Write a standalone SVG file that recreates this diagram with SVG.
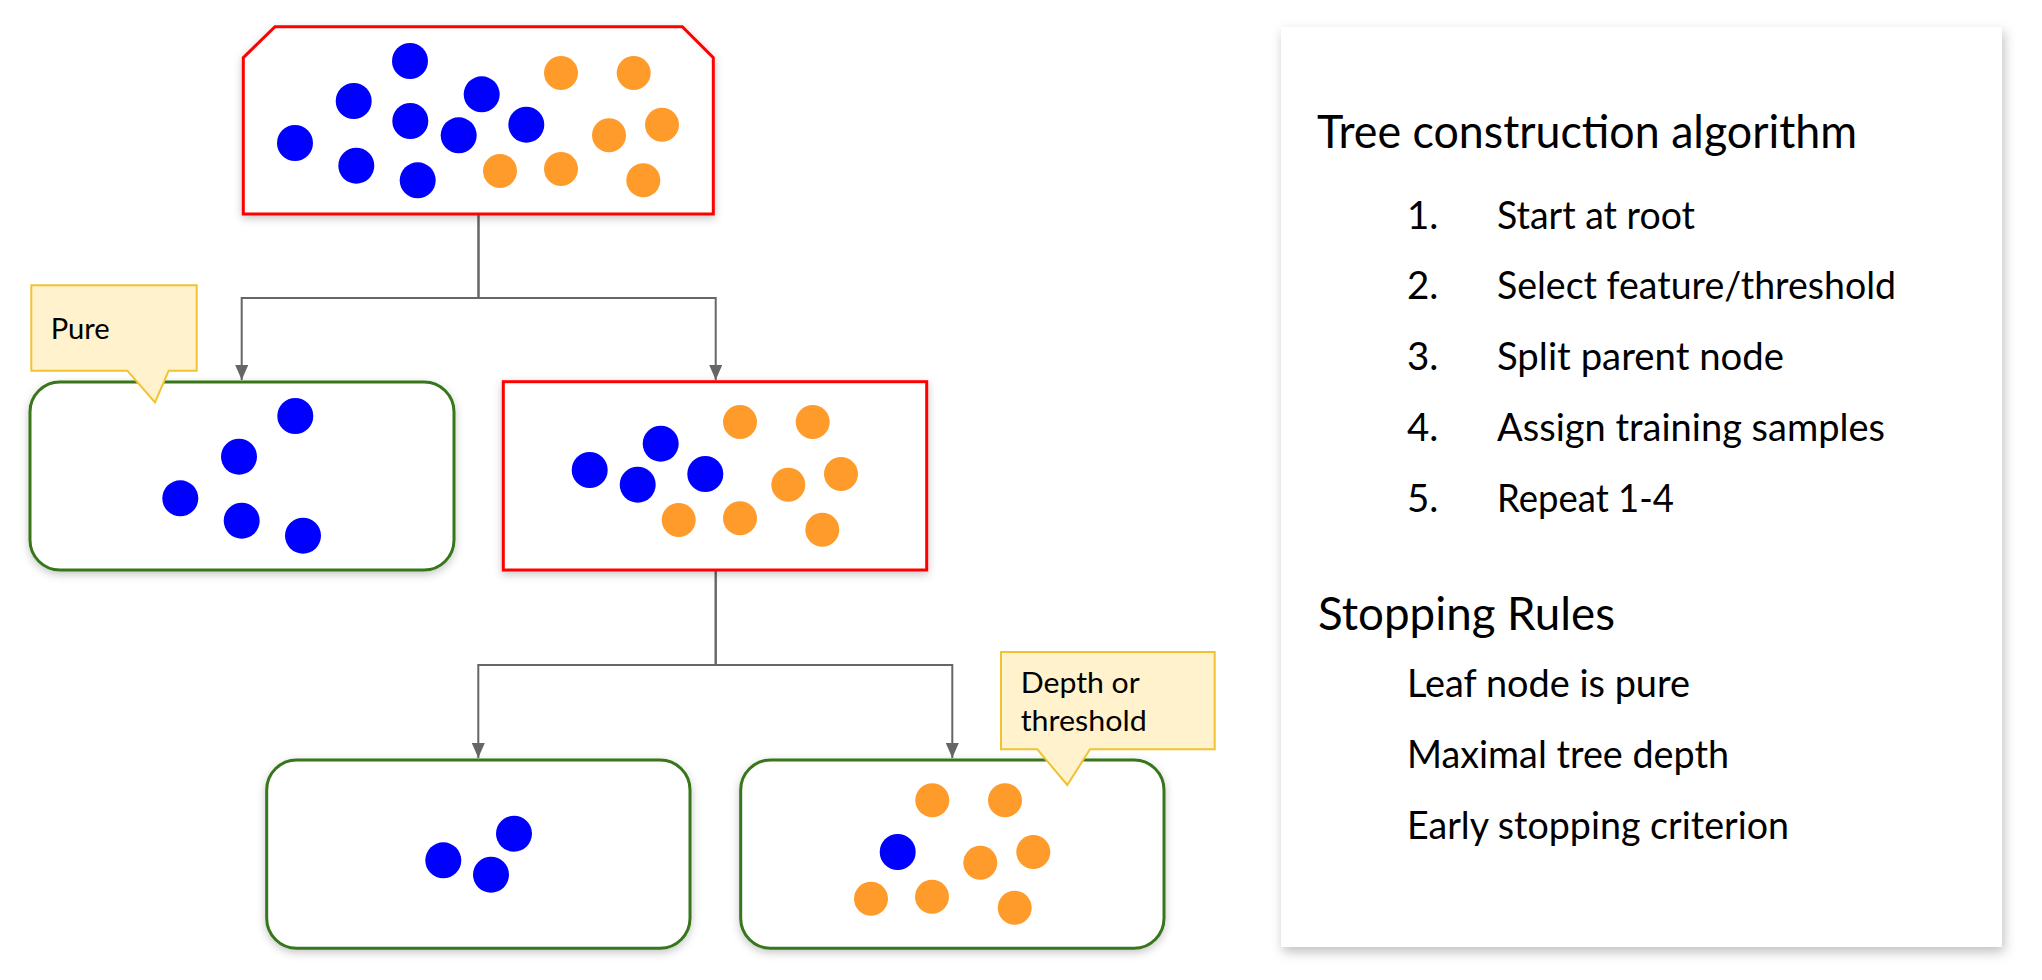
<svg xmlns="http://www.w3.org/2000/svg" width="2042" height="980" viewBox="0 0 2042 980">
  <style>
    .blue { fill: #0000ff; }
    .orange { fill: #ff9b2b; }
    .red { fill: #ffffff; stroke: #ff0000; stroke-width: 3; }
    .green { fill: #ffffff; stroke: #38761d; stroke-width: 3; }
    .callout { fill: #fff2cc; stroke: #f1c232; stroke-width: 2; }
    .conn { fill: none; stroke: #666666; stroke-width: 2; }
    .txt { font-family: Lato, "Open Sans", "Liberation Sans", sans-serif; fill: #000000; }
  </style>
  <defs>
    <filter id="sh" x="-10%" y="-10%" width="120%" height="130%">
      <feDropShadow dx="0" dy="3" stdDeviation="4" flood-color="#000000" flood-opacity="0.22"/>
    </filter>
    <filter id="shp" x="-10%" y="-10%" width="120%" height="120%">
      <feDropShadow dx="2" dy="5" stdDeviation="6" flood-color="#000000" flood-opacity="0.25"/>
    </filter>
    <marker id="arr" markerUnits="userSpaceOnUse" viewBox="0 0 15 13" refX="15" refY="6.5" markerWidth="15" markerHeight="13" orient="auto">
      <path d="M0,0 L15,6.5 L0,13 z" fill="#666666"/>
    </marker>
  </defs>
  <rect x="0" y="0" width="2042" height="980" fill="#ffffff"/>

  <g id="panel">
    <rect x="1281" y="27" width="721" height="920" fill="#ffffff" filter="url(#shp)"/>
    <text class="txt" x="1317" y="148" font-size="46" textLength="540" lengthAdjust="spacingAndGlyphs">Tree construction algorithm</text>
    <text class="txt" x="1407" y="228.5" font-size="38.5">1.</text>
    <text class="txt" x="1497" y="228.5" font-size="38.5" textLength="198" lengthAdjust="spacingAndGlyphs">Start at root</text>
    <text class="txt" x="1407" y="299.3" font-size="38.5">2.</text>
    <text class="txt" x="1497" y="299.3" font-size="38.5" textLength="399" lengthAdjust="spacingAndGlyphs">Select feature/threshold</text>
    <text class="txt" x="1407" y="370" font-size="38.5">3.</text>
    <text class="txt" x="1497" y="370" font-size="38.5" textLength="287" lengthAdjust="spacingAndGlyphs">Split parent node</text>
    <text class="txt" x="1407" y="440.7" font-size="38.5">4.</text>
    <text class="txt" x="1497" y="440.7" font-size="38.5" textLength="388" lengthAdjust="spacingAndGlyphs">Assign training samples</text>
    <text class="txt" x="1407" y="511.5" font-size="38.5">5.</text>
    <text class="txt" x="1497" y="511.5" font-size="38.5" textLength="177" lengthAdjust="spacingAndGlyphs">Repeat 1-4</text>
    <text class="txt" x="1318" y="630" font-size="46" textLength="297" lengthAdjust="spacingAndGlyphs">Stopping Rules</text>
    <text class="txt" x="1407" y="697.3" font-size="38.5" textLength="283" lengthAdjust="spacingAndGlyphs">Leaf node is pure</text>
    <text class="txt" x="1407" y="768.3" font-size="38.5" textLength="322" lengthAdjust="spacingAndGlyphs">Maximal tree depth</text>
    <text class="txt" x="1407" y="839" font-size="38.5" textLength="382" lengthAdjust="spacingAndGlyphs">Early stopping criterion</text>
  </g>

  <g id="connectors">
    <path class="conn" d="M478.5,214 V298 H241.7 V380" marker-end="url(#arr)"/>
    <path class="conn" d="M478.5,214 V298 H715.7 V380" marker-end="url(#arr)"/>
    <path class="conn" d="M715.7,570 V665 H478.3 V758" marker-end="url(#arr)"/>
    <path class="conn" d="M715.7,570 V665 H952.3 V758" marker-end="url(#arr)"/>
  </g>

  <g id="root">
    <path class="red" filter="url(#sh)" d="M275,26.7 H682.3 L713.3,57.7 V214 H243.3 V57.7 Z"/>
    <circle class="blue" cx="410" cy="61" r="18"/>
    <circle class="blue" cx="353.7" cy="101" r="18"/>
    <circle class="blue" cx="410.3" cy="121" r="18"/>
    <circle class="blue" cx="481.7" cy="94.3" r="18"/>
    <circle class="blue" cx="295" cy="143" r="18"/>
    <circle class="blue" cx="356.3" cy="165.7" r="18"/>
    <circle class="blue" cx="417.7" cy="180.3" r="18"/>
    <circle class="blue" cx="458.7" cy="135.3" r="18"/>
    <circle class="blue" cx="526.3" cy="124.7" r="18"/>
    <circle class="orange" cx="561" cy="73" r="17"/>
    <circle class="orange" cx="633.7" cy="73" r="17"/>
    <circle class="orange" cx="662" cy="124.7" r="17"/>
    <circle class="orange" cx="609" cy="135.3" r="17"/>
    <circle class="orange" cx="500" cy="171" r="17"/>
    <circle class="orange" cx="561" cy="169" r="17"/>
    <circle class="orange" cx="643.3" cy="180.3" r="17"/>
  </g>

  <g id="leaf-pure">
    <rect class="green" filter="url(#sh)" x="30" y="382" width="424" height="188" rx="30" ry="30"/>
    <circle class="blue" cx="295.3" cy="416" r="18"/>
    <circle class="blue" cx="239" cy="456.7" r="18"/>
    <circle class="blue" cx="180.3" cy="498.3" r="18"/>
    <circle class="blue" cx="241.7" cy="520.7" r="18"/>
    <circle class="blue" cx="303" cy="535.7" r="18"/>
  </g>

  <g id="split-node">
    <rect class="red" filter="url(#sh)" x="503.3" y="381.7" width="423.4" height="188.3"/>
    <circle class="blue" cx="660.7" cy="443.7" r="18"/>
    <circle class="blue" cx="589.7" cy="470" r="18"/>
    <circle class="blue" cx="637.7" cy="484.7" r="18"/>
    <circle class="blue" cx="705.3" cy="474" r="18"/>
    <circle class="orange" cx="740" cy="422" r="17"/>
    <circle class="orange" cx="812.7" cy="422" r="17"/>
    <circle class="orange" cx="841" cy="474" r="17"/>
    <circle class="orange" cx="788.3" cy="484.7" r="17"/>
    <circle class="orange" cx="678.7" cy="520" r="17"/>
    <circle class="orange" cx="740" cy="518.3" r="17"/>
    <circle class="orange" cx="822.3" cy="529.7" r="17"/>
  </g>

  <g id="leaf-left">
    <rect class="green" filter="url(#sh)" x="266.7" y="760" width="423.3" height="188.3" rx="30" ry="30"/>
    <circle class="blue" cx="514" cy="833.7" r="18"/>
    <circle class="blue" cx="443.3" cy="860.3" r="18"/>
    <circle class="blue" cx="491" cy="874.7" r="18"/>
  </g>

  <g id="leaf-right">
    <rect class="green" filter="url(#sh)" x="740.7" y="760" width="423.3" height="188.3" rx="30" ry="30"/>
    <circle class="orange" cx="932.3" cy="800.3" r="17"/>
    <circle class="orange" cx="1005" cy="800.3" r="17"/>
    <circle class="orange" cx="1033.3" cy="852" r="17"/>
    <circle class="orange" cx="980.3" cy="862.7" r="17"/>
    <circle class="orange" cx="871" cy="898.7" r="17"/>
    <circle class="orange" cx="932" cy="896.7" r="17"/>
    <circle class="orange" cx="1014.7" cy="907.7" r="17"/>
    <circle class="blue" cx="897.7" cy="852" r="18"/>
  </g>

  <g id="callout-pure">
    <path class="callout" d="M31.3,285.3 H196.7 V370.7 H168.7 L155,402.3 L127.3,370.7 H31.3 Z"/>
    <text class="txt" x="50.7" y="339.3" font-size="29" textLength="59" lengthAdjust="spacingAndGlyphs">Pure</text>
  </g>

  <g id="callout-depth">
    <path class="callout" d="M1001,652 H1214.7 V749.3 H1090 L1067.3,785 L1037.3,749.3 H1001 Z"/>
    <text class="txt" x="1020.7" y="693.3" font-size="29" textLength="119" lengthAdjust="spacingAndGlyphs">Depth or</text>
    <text class="txt" x="1020.7" y="731" font-size="29" textLength="126" lengthAdjust="spacingAndGlyphs">threshold</text>
  </g>
</svg>
